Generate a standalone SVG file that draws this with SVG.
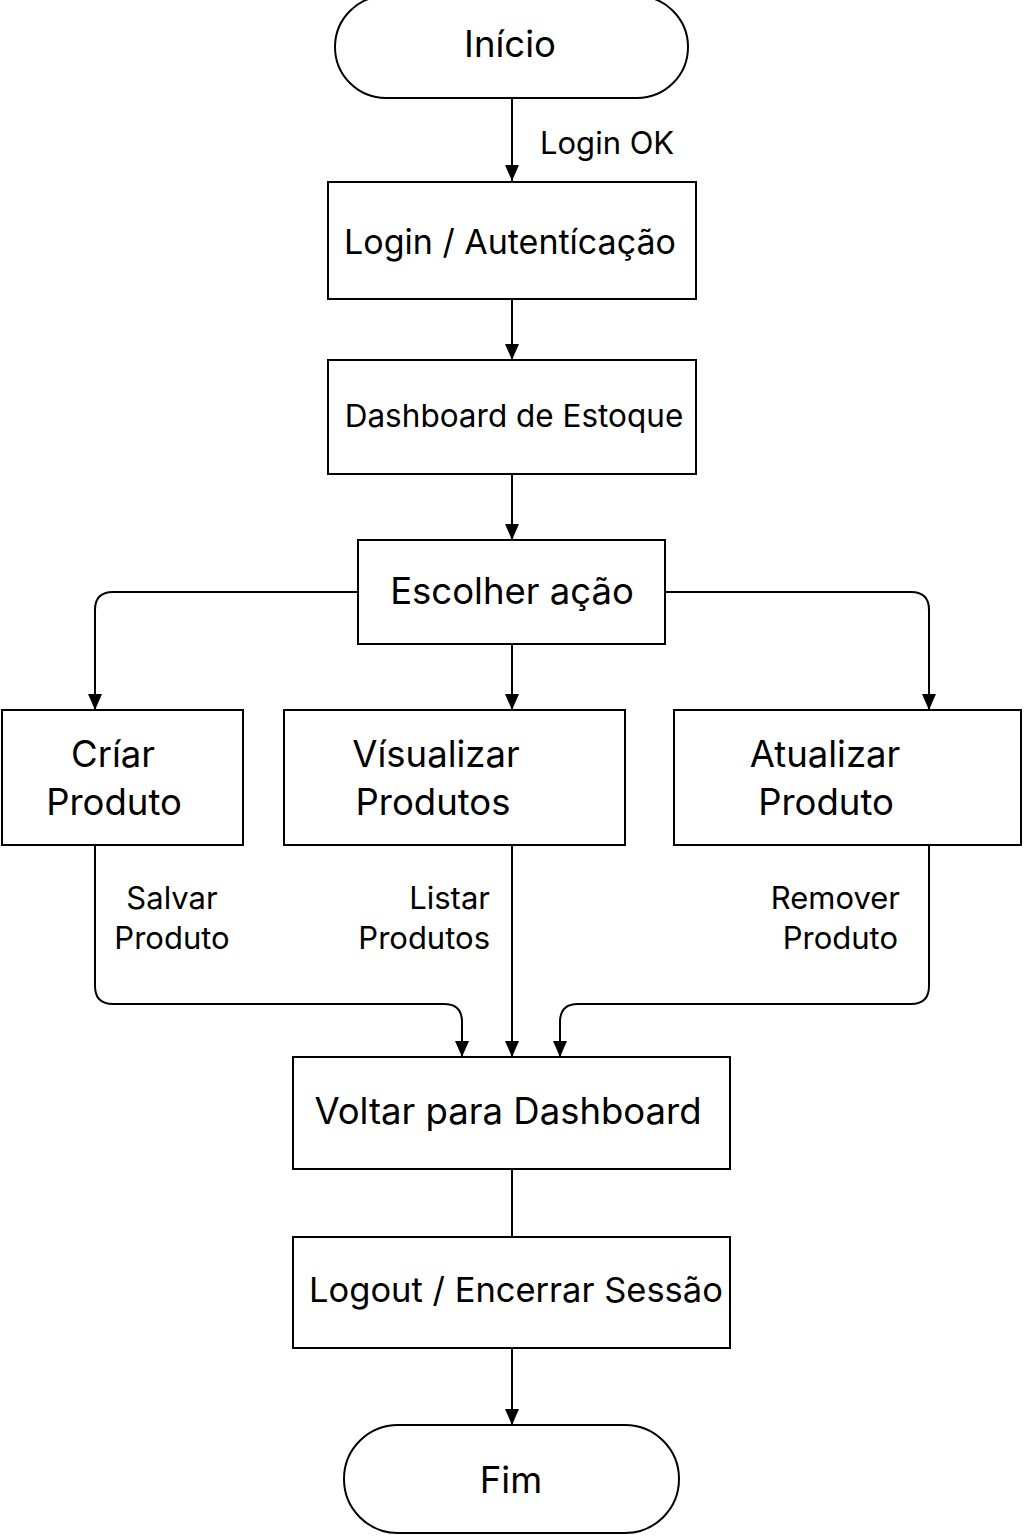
<svg xmlns="http://www.w3.org/2000/svg" width="1024" height="1536" viewBox="0 0 1024 1536">
<defs>
<marker id="ah" viewBox="0 0 16 14" refX="16" refY="7" markerWidth="16" markerHeight="14" markerUnits="userSpaceOnUse" orient="auto">
<path d="M0,0 L16,7 L0,14 Z" fill="#000"/>
</marker>
<style>
.n{fill:#fff;stroke:#000;stroke-width:2}
.t{font-family:Inter,"Noto Sans","DejaVu Sans",sans-serif;font-size:36.5px;fill:#000;text-anchor:middle}
.s{font-family:Inter,"Noto Sans","DejaVu Sans",sans-serif;font-size:31px;fill:#000}
.c{fill:none;stroke:#000;stroke-width:2}
</style>
</defs>
<rect width="1024" height="1536" fill="#fff"/>
<g id="connectors">
<path class="c" d="M512,98 V181" marker-end="url(#ah)"/>
<path class="c" d="M512,299 V360" marker-end="url(#ah)"/>
<path class="c" d="M512,474 V540" marker-end="url(#ah)"/>
<path class="c" d="M358,592 H113 Q95,592 95,610 V710" marker-end="url(#ah)"/>
<path class="c" d="M665,592 H911 Q929,592 929,610 V710" marker-end="url(#ah)"/>
<path class="c" d="M512,644 V710" marker-end="url(#ah)"/>
<path class="c" d="M95,845 V986 Q95,1004 113,1004 H444 Q462,1004 462,1022 V1057" marker-end="url(#ah)"/>
<path class="c" d="M512,845 V1057" marker-end="url(#ah)"/>
<path class="c" d="M929,845 V986 Q929,1004 911,1004 H578 Q560,1004 560,1022 V1057" marker-end="url(#ah)"/>
<path class="c" d="M512,1169 V1237"/>
<path class="c" d="M512,1348 V1425" marker-end="url(#ah)"/>
<text class="s" x="540" y="154">Login OK</text>
<text class="s" x="172" y="909" text-anchor="middle">Salvar</text>
<text class="s" x="172" y="949" text-anchor="middle">Produto</text>
<text class="s" x="490" y="909" text-anchor="end">Listar</text>
<text class="s" x="490" y="949" text-anchor="end">Produtos</text>
<text class="s" x="900" y="909" text-anchor="end">Remover</text>
<text class="s" x="898" y="949" text-anchor="end">Produto</text>
</g>
<g id="inicio">
<rect class="n" x="335" y="-4" width="353" height="102" rx="51"/>
<text class="t" x="510" y="57">Início</text>
</g>
<g id="login">
<rect class="n" x="328" y="182" width="368" height="117"/>
<text class="t" x="510" y="254" style="font-size:34px">Login / Autentícação</text>
</g>
<g id="dashboard">
<rect class="n" x="328" y="360" width="368" height="114"/>
<text class="t" x="514" y="427" style="font-size:31.5px">Dashboard de Estoque</text>
</g>
<g id="escolher">
<rect class="n" x="358" y="540" width="307" height="104"/>
<text class="t" x="512" y="604">Escolher ação</text>
</g>
<g id="criar">
<rect class="n" x="2" y="710" width="241" height="135"/>
<text class="t" x="113" y="767">Críar</text>
<text class="t" x="114" y="815">Produto</text>
</g>
<g id="visualizar">
<rect class="n" x="284" y="710" width="341" height="135"/>
<text class="t" x="436" y="767">Vísualizar</text>
<text class="t" x="433" y="815">Produtos</text>
</g>
<g id="atualizar">
<rect class="n" x="674" y="710" width="347" height="135"/>
<text class="t" x="825" y="767">Atualizar</text>
<text class="t" x="826" y="815">Produto</text>
</g>
<g id="voltar">
<rect class="n" x="293" y="1057" width="437" height="112"/>
<text class="t" x="508" y="1124">Voltar para Dashboard</text>
</g>
<g id="logout">
<rect class="n" x="293" y="1237" width="437" height="111"/>
<text class="t" x="516" y="1302" style="font-size:34.5px">Logout / Encerrar Sessão</text>
</g>
<g id="fim">
<rect class="n" x="344" y="1425" width="335" height="108" rx="54"/>
<text class="t" x="511" y="1493">Fim</text>
</g>
</svg>
